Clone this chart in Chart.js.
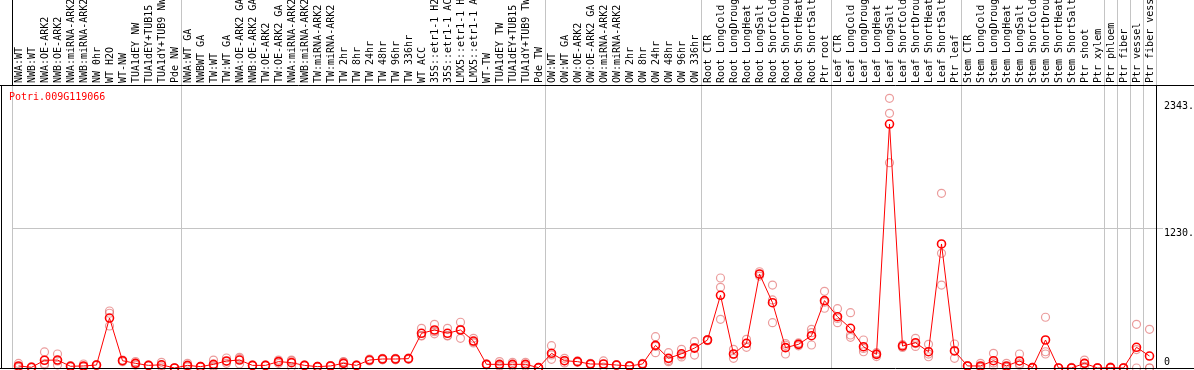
<!DOCTYPE html>
<html>
<head>
<meta charset="utf-8">
<script src="https://cdn.jsdelivr.net/npm/chart.js@4/dist/chart.umd.min.js"></script>
<style>
  html, body { margin: 0; padding: 0; background: #fff; }
</style>
</head>
<body>
<canvas id="expr" width="1194" height="370"></canvas>
<script>
// sample names along the top
const samples = [
  "NWA:WT", "NWB:WT", "NWA:OE-ARK2", "NWB:OE-ARK2", "NWA:miRNA-ARK2", "NWB:miRNA-ARK2",
  "NW 0hr", "WT H2O", "WT-NW", "TUA1dEY NW", "TUA1dEY+TUB15 NW", "TUA1dY+TUB9 NW", "Pde NW",
  "NWA:WT GA", "NWBWT GA", "TW:WT", "TW:WT GA", "NWA:OE-ARK2 GA", "NWB:OE-ARK2 GA",
  "TW:OE-ARK2", "TW:OE-ARK2 GA", "NWA:miRNA-ARK2 GA", "NWB:miRNA-ARK2 GA", "TW:miRNA-ARK2",
  "TW:miRNA-ARK2 GA", "TW 2hr", "TW 8hr", "TW 24hr", "TW 48hr", "TW 96hr", "TW 336hr", "WT ACC",
  "35S::etr1-1 H2O", "35S::etr1-1 ACC", "LMX5::etr1-1 H2O", "LMX5::etr1-1 ACC", "WT-TW",
  "TUA1dEY TW", "TUA1dEY+TUB15 TW", "TUA1dY+TUB9 TW", "Pde TW",
  "OW:WT", "OW:WT GA", "OW:OE-ARK2", "OW:OE-ARK2 GA", "OW:miRNA-ARK2", "OW:miRNA-ARK2 GA",
  "OW 2hr", "OW 8hr", "OW 24hr", "OW 48hr", "OW 96hr", "OW 336hr",
  "Root CTR", "Root LongCold", "Root LongDrought", "Root LongHeat", "Root LongSalt",
  "Root ShortCold", "Root ShortDrought", "Root ShortHeat", "Root ShortSalt", "Ptr root",
  "Leaf CTR", "Leaf LongCold", "Leaf LongDrought", "Leaf LongHeat", "Leaf LongSalt",
  "Leaf ShortCold", "Leaf ShortDrought", "Leaf ShortHeat", "Leaf ShortSalt", "Ptr leaf",
  "Stem CTR", "Stem LongCold", "Stem LongDrought", "Stem LongHeat", "Stem LongSalt",
  "Stem ShortCold", "Stem ShortDrought", "Stem ShortHeat", "Stem ShortSalt", "Ptr shoot",
  "Ptr xylem", "Ptr phloem", "Ptr fiber", "Ptr vessel", "Ptr fiber vessel"
];

// mean expression per sample
const meanValues = [
  18, 6, 68, 70, 15, 18, 26, 439, 64, 41, 23, 28, 0,
  23, 12, 32, 62, 70, 23, 23, 56, 47, 23, 12, 18, 41, 23, 70, 79, 79, 82, 305, 334, 305, 334, 237, 32, 32, 32, 32, 3,
  129, 64, 56, 35, 35, 26, 18, 35, 199, 85, 125, 175,
  246, 639, 123, 217, 826, 574, 179, 208, 284, 592,
  451, 349, 187, 120, 2144, 193, 222, 143, 1090, 150,
  18, 18, 64, 18, 62, 3, 246, 0, 0, 41, 0,
  3, 0, 182, 105
];

// single replicates (faded circles)
const rep1 = [
  40, 10, 141, 123, 20, 35, 30, 501, 70, 56, 26, 50, 0,
  41, 15, 70, 88, 94, 26, 26, 70, 70, 26, 15, 22, 56, 26, 79, 85, 85, 88, 349, 384, 349, 402, 261, 35, 56, 50, 50, 5,
  196, 85, 62, 41, 62, 30, 22, 41, 275, 135, 164, 231,
  250, 791, 164, 252, 846, 729, 200, 220, 340, 674,
  521, 486, 246, 135, 2370, 205, 261, 208, 1535, 211,
  22, 41, 129, 41, 123, 5, 446, 0, 5, 70, 3,
  8, 3, 384, 340
];
const rep2 = [
  5, 3, 26, 26, 10, 9, 22, 369, 56, 26, 20, 10, 0,
  9, 9, 9, 41, 35, 20, 20, 41, 9, 20, 9, 15, 15, 20, 62, 72, 72, 76, 281, 319, 281, 261, 220, 28, 15, 15, 15, 0,
  76, 45, 50, 30, 9, 22, 15, 30, 135, 56, 114, 114,
  240, 428, 85, 182, 808, 398, 123, 195, 202, 525,
  398, 270, 143, 100, 1804, 180, 190, 99, 729, 85,
  15, 10, 18, 10, 38, 0, 123, 0, 0, 15, 0,
  0, 0, 0, 0
];
const rep3 = [
  10, 5, 37, 62, 15, 10, 26, 481, 66, 41, 23, 24, 0,
  20, 12, 18, 57, 82, 23, 23, 56, 62, 23, 12, 18, 52, 23, 70, 80, 80, 82, 285, 300, 285, 340, 230, 32, 25, 30, 30, 3,
  115, 62, 56, 35, 35, 26, 18, 35, 190, 65, 97, 180,
  248, 709, 120, 217, 824, 598, 215, 210, 310, 578,
  435, 290, 172, 125, 2238, 195, 215, 122, 1008, 155,
  18, 5, 45, 5, 25, 3, 143, 0, 0, 38, 0,
  2, 0, 162, 0
];

// category borders that get a separator line
const groupBreaks = [0, 13, 41, 53, 63, 73, 84, 85, 86, 87, 88];
const yTicks = [0, 1230, 2343];
const yTickLabels = ["0", "1230.", "2343."];
const geneName = "Potri.009G119066";
const yMax = 2487;

const grey = "#c4c4c4";
const monoFont = "'DejaVu Sans Mono', 'Liberation Mono', monospace";

Chart.defaults.font.family = monoFont;
Chart.defaults.font.size = 10;
Chart.defaults.color = "#000";

// frame, gene name and right hand tick labels
const framePlugin = {
  id: "frame",
  afterDraw(chart) {
    const ctx = chart.ctx;
    const area = chart.chartArea;
    const y = chart.scales.y;
    ctx.save();
    ctx.strokeStyle = "#000";
    ctx.lineWidth = 1;
    ctx.beginPath();
    ctx.moveTo(0, area.top + 0.5);
    ctx.lineTo(chart.width, area.top + 0.5);
    ctx.moveTo(0, area.bottom + 0.5);
    ctx.lineTo(chart.width, area.bottom + 0.5);
    ctx.moveTo(1.5, area.top);
    ctx.lineTo(1.5, area.bottom);
    ctx.moveTo(area.right + 0.5, area.top);
    ctx.lineTo(area.right + 0.5, area.bottom);
    ctx.stroke();

    ctx.font = "10px " + monoFont;
    ctx.fillStyle = "#ff0000";
    ctx.textAlign = "left";
    ctx.textBaseline = "middle";
    ctx.fillText(geneName, area.left - 3, area.top + 12);

    ctx.fillStyle = "#000";
    yTicks.forEach((v, i) => {
      const py = y.getPixelForValue(v);
      ctx.fillText(yTickLabels[i], area.right + 8, v === 0 ? py - 6 : py + 5);
    });
    ctx.restore();
  },
};

function repSet(data) {
  return {
    type: "line",
    data: data,
    showLine: false,
    pointRadius: 4,
    pointBorderWidth: 1.2,
    pointBorderColor: "rgba(222, 96, 96, 0.62)",
    pointBackgroundColor: "rgba(0,0,0,0)",
    borderColor: "rgba(0,0,0,0)",
    order: 1,
    clip: false,
  };
}

new Chart(document.getElementById("expr"), {
  type: "line",
  data: {
    labels: samples,
    datasets: [
      {
        label: geneName,
        data: meanValues,
        borderColor: "#ff0000",
        borderWidth: 1,
        pointRadius: 4,
        pointBorderWidth: 1.6,
        pointBorderColor: "#ff0000",
        pointBackgroundColor: "rgba(0,0,0,0)",
        tension: 0,
        order: 0,
        clip: false,
      },
      repSet(rep1),
      repSet(rep2),
      repSet(rep3),
    ],
  },
  options: {
    responsive: false,
    animation: false,
    events: [],
    layout: {
      autoPadding: false,
      padding: { left: 12, right: 0, top: 0, bottom: 2 },
    },
    plugins: {
      legend: { display: false },
      tooltip: { enabled: false },
    },
    scales: {
      x: {
        type: "category",
        position: "top",
        offset: true,
        border: { display: false },
        grid: {
          offset: true,
          drawTicks: true,
          tickLength: 85,
          color: (c) => {
            if (c.index === undefined) return "#000";
            return groupBreaks.includes(c.index) ? grey : "rgba(0,0,0,0)";
          },
          tickColor: (c) => {
            if (c.index === undefined) return grey;
            if (c.index === 0) return "#000";
            return groupBreaks.includes(c.index) ? grey : "rgba(0,0,0,0)";
          },
        },
        ticks: {
          autoSkip: false,
          minRotation: 90,
          maxRotation: 90,
          padding: -83,
          labelOffset: 13,
          color: "#000",
          font: { size: 10, family: monoFont },
        },
        afterFit: (scale) => {
          scale.height = 85;
        },
      },
      y: {
        type: "linear",
        position: "right",
        min: 0,
        max: yMax,
        border: { display: false },
        afterBuildTicks: (scale) => {
          scale.ticks = yTicks.map((v) => ({ value: v }));
        },
        grid: {
          drawTicks: true,
          tickLength: 7,
          color: (c) => (c.tick && c.tick.value === 1230 ? grey : "rgba(0,0,0,0)"),
          tickColor: (c) => (c.tick && c.tick.value === 1230 ? grey : "rgba(0,0,0,0)"),
        },
        ticks: { display: false },
        afterFit: (scale) => {
          scale.width = 38;
        },
      },
    },
  },
  plugins: [framePlugin],
});
</script>
</body>
</html>
